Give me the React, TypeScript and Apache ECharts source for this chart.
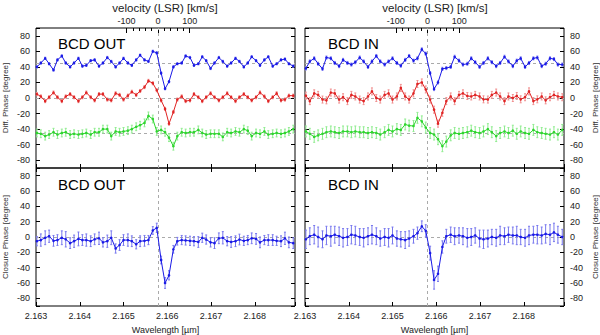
import React, { useEffect, useRef } from "react";
import * as echarts from "echarts";

// ---------- data ----------
const wavelength = [
  2.16302, 2.16311, 2.16321, 2.1633, 2.1634, 2.16349, 2.16359, 2.16368, 2.16378, 2.16387,
  2.16397, 2.16406, 2.16415, 2.16425, 2.16434, 2.16444, 2.16453, 2.16463, 2.16472, 2.16482,
  2.16491, 2.165, 2.1651, 2.16519, 2.16529, 2.16538, 2.16548, 2.16557, 2.16567, 2.16576,
  2.16586, 2.16595, 2.16604, 2.16614, 2.16623, 2.16633, 2.16642, 2.16652, 2.16661, 2.16671,
  2.1668, 2.16689, 2.16699, 2.16708, 2.16718, 2.16727, 2.16737, 2.16746, 2.16756, 2.16765,
  2.16775, 2.16784, 2.16793, 2.16803, 2.16812, 2.16822, 2.16831, 2.16841, 2.1685, 2.1686,
  2.16869, 2.16878, 2.16888,
];
const LAMBDA0 = 2.16579;

// Differential phase, BCD OUT
const dpOutBlue = [40,45,51,44,36,49,54,45,40,45,51,41,42,48,49,41,45,52,47,40,45,51,45,42,49,55,49,47,60,58,32,12,21,40,44,45,54,52,42,44,53,48,38,45,52,47,41,45,51,47,40,45,53,48,42,49,53,41,44,49,50,44,41];
const dpOutRed = [5,2,-4,1,7,1,-4,2,5,1,-4,1,7,1,-3,5,5,-2,-3,6,4,-2,3,8,4,9,14,22,19,10,-3,-14,-33,-18,-2,2,-4,-3,5,1,-4,1,6,1,-3,1,6,1,-4,1,5,1,-3,1,7,2,-4,1,6,-3,-2,3,3];
const dpOutGreen = [-45,-46,-49,-47,-44,-47,-45,-44,-47,-46,-47,-46,-45,-47,-44,-44,-40,-40,-49,-43,-44,-43,-42,-40,-37,-35,-32,-23,-27,-43,-41,-44,-51,-62,-49,-44,-45,-44,-44,-41,-45,-47,-46,-46,-46,-50,-44,-45,-43,-44,-40,-42,-49,-45,-46,-43,-47,-46,-45,-46,-45,-43,-40];
// Differential phase, BCD IN
const dpInBlue = [38,47,51,44,37.5,52,51,45,41,49,45,43,46,52,47,40,47,54,47,43,47,51,45,41.5,49,54,48,51,62.5,57,32,11.5,20,37.5,38.5,40,53,48,43,44,51,46,40,45,51,46,41,45,53,47,41,48,51,40,45,51,52,41,44,51,50,43,43];
const dpInRed = [3,-4,6,4,-2,-3,7,6,-2,1,-4,4,2,-2,-4,2,8.5,0,-2,4,6,-2,2,13,2,-2,6,18,20,11,-2,-15,-33,-19,-4,2,-4,4,6,2.6,2,4,2,-1.7,-2,4,7,2,-4,2,0,2.6,-1.7,1,8.5,-4,-1.7,2,-3,1,4,2,1];
const dpInGreen = [-43,-46,-50,-48,-46,-44,-43,-44,-45,-43,-43,-44,-43,-44,-44,-45,-44,-45,-47,-44,-41,-43,-40,-41,-34,-35.5,-36,-25.5,-30,-38,-45,-47,-53,-62,-56,-48,-45,-46,-45,-44,-42,-44,-45,-43,-40,-44,-49,-45,-43,-45,-42,-46,-43,-45,-46,-41,-44,-45,-46,-47,-44,-47,-41];
// Closure phase
const cpOut = [-5.5,-4,-1,1,-5,-4,-1,-3,-8,-5.5,-2.5,-4,-4,-5.5,-3,-1.7,-7,-5.5,-1,-15,-10.5,-4,-4,-5.5,-9.5,-5.5,-5,-4,8.5,12,-30,-60,-50,-16,-5.5,-4,-4.5,-5,-5.5,-6.5,-1,-3.3,-7,-8,-1.7,-1,-5.5,-6.5,-5.5,-3.3,-5,-4,-1.7,-2.5,-7,-4,-4,-4,-5,-5.5,-1.7,-7,-8];
const cpOutErr = [6,8,9,8,7,7,9,10,7,8,9,7,8,7,7,8,6,8,9,6,7,7,8,7,6,7,7,6,5,6,5,7,6,5,5,6,6,6,6,7,6,6,6,7,7,8,6,7,7,7,6,6,7,7,7,6,7,7,6,7,8,7,7];
const cpIn = [-3,1,3,0,-3,2,1,3,1,-1,0,3,2,0,-1,1,3,1,-2,0,-1,2,-2,-3,-4,-2,1,5,14,8,-21,-56,-48,-13,1,3,1,2,1,-1,0,2,-2,-3,-2,0,-1,2,1,3,2,2,0,-1,2,3,3,2,4,3,6,3,0];
const cpInErr = [12,11,12,13,11,12,13,11,12,12,11,12,12,11,12,11,12,11,10,11,12,11,10,10,11,10,9,8,7,8,9,12,10,8,9,10,11,10,11,12,11,10,11,12,11,10,11,12,11,10,11,12,10,11,12,11,12,11,12,13,12,11,10];
// per-series typical error bars (degree)
const dpOutErr = { blue: 1.5, red: 2, green: 5 };
const dpInErr = { blue: 2, red: 4.5, green: 7 };

const refLines = [45, 0, -45];
const velocityTicks = { min: -100, max: 100, step: 100 };

// ---------- layout ----------
const FONT = "Liberation Sans, Arial, Helvetica, sans-serif";
const C_KMS = 299792.458;
const XMIN = 2.163;
const XMAX = 2.16892;
const YMIN = -90;
const YMAX = 90;
const panels = [
  { left: 36, top: 28, width: 259, height: 140 },
  { left: 305, top: 28, width: 260, height: 140 },
  { left: 36, top: 168, width: 259, height: 140 },
  { left: 305, top: 168, width: 260, height: 140 },
];
const BLUE = "#1a1ae6";
const RED = "#e02424";
const GREEN = "#2ed62e";
const BLUE_E = "#8a8af5";
const RED_E = "#f09090";
const GREEN_E = "#90ec90";
const BLUE_E2 = "#7878ee";

function vpx(p: any, v: number) {
  const lam = LAMBDA0 * (1 + v / C_KMS);
  return p.left + ((lam - XMIN) / (XMAX - XMIN)) * p.width;
}

function wlLabel(v: number) {
  const r = Math.round(v * 1000) / 1000;
  if (Math.abs(v - r) > 1e-7 || r > XMAX) return "";
  return r.toFixed(3);
}
function phLabel(v: number) {
  return Math.abs(v) >= 89 ? "" : String(Math.round(v));
}

const tickStyle = { color: "#000", width: 1 };
const noLine = { show: false, onZero: false };

function xAxisDef(gridIndex: number, position: string, labels: boolean, name?: string) {
  return {
    type: "value",
    gridIndex,
    position,
    min: XMIN,
    max: XMAX,
    interval: 0.001,
    axisLine: noLine,
    axisTick: { show: true, inside: true, length: 4, lineStyle: tickStyle },
    axisLabel: { show: labels, formatter: wlLabel, fontSize: 9, color: "#222", fontFamily: FONT, margin: 5 },
    splitLine: { show: false },
    name: name || "",
    nameLocation: "middle",
    nameGap: 19,
    nameTextStyle: { fontSize: 9, color: "#222", fontFamily: FONT },
  };
}
function yAxisDef(gridIndex: number, position: string, labels: boolean, name?: string) {
  return {
    type: "value",
    gridIndex,
    position,
    min: YMIN,
    max: YMAX,
    splitNumber: 9,
    minInterval: 20,
    maxInterval: 20,
    axisLine: noLine,
    axisTick: { show: true, inside: true, length: 4, lineStyle: tickStyle },
    axisLabel: { show: labels, formatter: phLabel, fontSize: 9, color: "#222", fontFamily: FONT, margin: 6 },
    splitLine: { show: false },
    name: name || "",
    nameLocation: "middle",
    nameRotate: 90,
    nameGap: 27,
    nameTextStyle: { fontSize: 8, color: "#333", fontFamily: FONT },
  };
}
function velAxisDef(gridIndex: number) {
  return {
    type: "value",
    gridIndex,
    position: "top",
    min: velocityTicks.min,
    max: velocityTicks.max,
    interval: velocityTicks.step,
    axisLine: noLine,
    axisTick: { show: true, inside: true, length: 5, lineStyle: tickStyle },
    minorTick: { show: true, splitNumber: 5, length: 3, lineStyle: tickStyle },
    axisLabel: { show: true, fontSize: 9, color: "#222", fontFamily: FONT, margin: 3 },
    splitLine: { show: false },
    minorSplitLine: { show: false },
  };
}

function lineSeries(vals: number[], color: string, xi: number, yi: number, marks?: number[]) {
  const s: any = {
    type: "line",
    xAxisIndex: xi,
    yAxisIndex: yi,
    data: wavelength.map((w, i) => [w, vals[i]]),
    symbol: "circle",
    symbolSize: 2.6,
    showSymbol: true,
    itemStyle: { color },
    lineStyle: { color, width: 1 },
    z: 3,
  };
  if (marks) {
    s.markLine = {
      silent: true,
      symbol: ["none", "none"],
      label: { show: false },
      lineStyle: { type: [3, 3], color: "#aaa", width: 1 },
      data: [
        ...marks.map((m) => [{ coord: [XMIN, m] }, { coord: [XMAX, m] }]),
        [{ coord: [LAMBDA0, YMIN] }, { coord: [LAMBDA0, YMAX] }],
      ],
      z: 1,
    };
  }
  return s;
}
function errSeries(vals: number[], err: number[] | number, color: string, xi: number, yi: number) {
  return {
    type: "custom",
    xAxisIndex: xi,
    yAxisIndex: yi,
    silent: true,
    z: 2,
    data: wavelength.map((w, i) => [w, vals[i], typeof err === "number" ? err : err[i]]),
    renderItem: (params: any, api: any) => {
      const x = api.value(0);
      const y = api.value(1);
      const e = api.value(2);
      const p1 = api.coord([x, y - e]);
      const p2 = api.coord([x, y + e]);
      return {
        type: "group",
        children: [
          { type: "line", shape: { x1: p1[0], y1: p1[1], x2: p2[0], y2: p2[1] }, style: { stroke: color, lineWidth: 1 } },
          { type: "line", shape: { x1: p1[0] - 1, y1: p1[1], x2: p1[0] + 1, y2: p1[1] }, style: { stroke: color, lineWidth: 1 } },
          { type: "line", shape: { x1: p2[0] - 1, y1: p2[1], x2: p2[0] + 1, y2: p2[1] }, style: { stroke: color, lineWidth: 1 } },
        ],
      };
    },
  };
}

export default function App() {
  const ref = useRef<HTMLDivElement>(null);
  useEffect(() => {
    if (!ref.current) return;
    const chart = echarts.init(ref.current, null, { renderer: "svg" });
    const grids: any[] = panels.map((p) => ({
      ...p,
      show: true,
      borderColor: "#000",
      borderWidth: 1,
      backgroundColor: "transparent",
      containLabel: false,
    }));
    [panels[0], panels[1]].forEach((p) => {
      const l = vpx(p, velocityTicks.min);
      const r = vpx(p, velocityTicks.max);
      grids.push({ left: l, width: r - l, top: p.top, height: p.height, show: false });
    });

    const xAxis = [
      xAxisDef(0, "bottom", false),
      xAxisDef(1, "bottom", false),
      xAxisDef(2, "bottom", true, "Wavelength [µm]"),
      xAxisDef(3, "bottom", true, "Wavelength [µm]"),
      xAxisDef(2, "top", false),
      xAxisDef(3, "top", false),
      velAxisDef(4),
      velAxisDef(5),
    ];
    const yAxis: any[] = [
      yAxisDef(0, "left", true, "Diff. Phase [degree]"),
      yAxisDef(1, "right", true, "Diff. Phase [degree]"),
      yAxisDef(2, "left", true, "Closure Phase [degree]"),
      yAxisDef(3, "right", true, "Closure Phase [degree]"),
      yAxisDef(0, "right", false),
      yAxisDef(1, "left", false),
      yAxisDef(2, "right", false),
      yAxisDef(3, "left", false),
      { type: "value", gridIndex: 4, show: false, min: 0, max: 1 },
      { type: "value", gridIndex: 5, show: false, min: 0, max: 1 },
    ];

    const series: any[] = [
      // BCD OUT diff phase
      errSeries(dpOutBlue, dpOutErr.blue, BLUE_E, 0, 0),
      errSeries(dpOutRed, dpOutErr.red, RED_E, 0, 0),
      errSeries(dpOutGreen, dpOutErr.green, GREEN_E, 0, 0),
      lineSeries(dpOutBlue, BLUE, 0, 0, refLines),
      lineSeries(dpOutRed, RED, 0, 0),
      lineSeries(dpOutGreen, GREEN, 0, 0),
      // BCD IN diff phase
      errSeries(dpInBlue, dpInErr.blue, BLUE_E, 1, 1),
      errSeries(dpInRed, dpInErr.red, RED_E, 1, 1),
      errSeries(dpInGreen, dpInErr.green, GREEN_E, 1, 1),
      lineSeries(dpInBlue, BLUE, 1, 1, refLines),
      lineSeries(dpInRed, RED, 1, 1),
      lineSeries(dpInGreen, GREEN, 1, 1),
      // closure phase
      errSeries(cpOut, cpOutErr, BLUE_E2, 2, 2),
      lineSeries(cpOut, BLUE, 2, 2, [0]),
      errSeries(cpIn, cpInErr, BLUE_E2, 3, 3),
      lineSeries(cpIn, BLUE, 3, 3, [0]),
    ];

    const txt = (text: string, x: number, y: number, size: number, align: string, fill: string) => ({
      type: "text",
      x,
      y,
      silent: true,
      style: { text, fontSize: size, fontFamily: FONT, fill, align, verticalAlign: "middle" },
      z: 10,
    });

    chart.setOption({
      animation: false,
      backgroundColor: "#fff",
      grid: grids,
      xAxis,
      yAxis,
      series,
      graphic: [
        txt("velocity (LSR) [km/s]", 165, 8, 11.5, "center", "#222"),
        txt("velocity (LSR) [km/s]", 435, 8, 11.5, "center", "#222"),
        txt("BCD OUT", 58, 43, 15, "left", "#000"),
        txt("BCD IN", 328, 43, 15, "left", "#000"),
        txt("BCD OUT", 58, 184, 15, "left", "#000"),
        txt("BCD IN", 328, 184, 15, "left", "#000"),
      ],
    });
    return () => chart.dispose();
  }, []);
  return <div ref={ref} style={{ width: 600, height: 335, position: "absolute", left: 0, top: 0 }} />;
}
